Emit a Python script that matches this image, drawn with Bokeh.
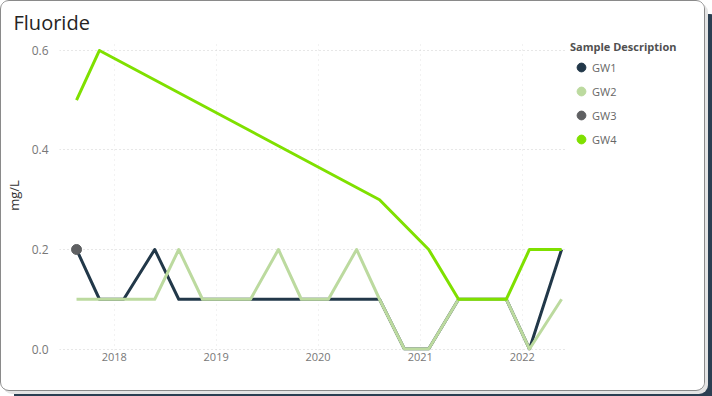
import numpy as np
import pandas as pd
from bokeh.plotting import figure
from bokeh.models import (ColumnDataSource, Legend, LegendItem, FixedTicker,
                          DatetimeTickFormatter, Range1d, CustomJSTickFormatter)
from bokeh.embed import file_html
from bokeh.resources import INLINE

# ---- data ----
dates = ["2017-08-19", "2017-11-09", "2018-02-04", "2018-05-26", "2018-08-20",
         "2018-11-13", "2019-05-04", "2019-08-12", "2019-11-02", "2020-02-07",
         "2020-05-18", "2020-08-08", "2020-11-05", "2021-01-31", "2021-05-18",
         "2021-11-05", "2022-01-27", "2022-05-22"]
gw1 = [0.2, 0.1, 0.1, 0.2, 0.1, 0.1, 0.1, 0.1, 0.1, 0.1, 0.1, 0.1, 0.0, 0.0, 0.1, 0.1, 0.0, 0.2]
gw2 = [0.1, 0.1, 0.1, 0.1, 0.2, 0.1, 0.1, 0.2, 0.1, 0.1, 0.2, 0.1, 0.0, 0.0, 0.1, 0.1, 0.0, 0.1]
gw3_dates = ["2017-08-19"]
gw3 = [0.2]
gw4_dates = ["2017-08-19", "2017-11-09", "2020-08-08", "2021-01-31", "2021-05-18",
             "2021-11-05", "2022-01-27", "2022-05-22"]
gw4 = [0.5, 0.6, 0.3, 0.2, 0.1, 0.1, 0.2, 0.2]

series_names = ["GW1", "GW2", "GW3", "GW4"]
colors = ["#223849", "#BCDA9F", "#5F6062", "#7FE000"]
year_ticks = ["2018-01-01", "2019-01-01", "2020-01-01", "2021-01-01", "2022-01-01"]
y_ticks = [0.0, 0.2, 0.4, 0.6]

FONT = "Open Sans"

x_start = pd.Timestamp("2017-06-19")
x_end = pd.Timestamp("2022-06-05")

p = figure(frame_width=506, frame_height=310, x_axis_type="datetime",
           x_range=Range1d(x_start, x_end), y_range=Range1d(-0.003, 0.62),
           output_backend="svg", toolbar_location=None,
           min_border_left=52, min_border_right=130, min_border_top=32,
           min_border_bottom=38, background_fill_color="white",
           border_fill_color="white", outline_line_color=None)

p.title.text = "Fluoride"
p.title.text_font = FONT
p.title.text_font_size = "20px"
p.title.text_font_style = "normal"
p.title.text_color = "#252423"
p.title.offset = -46

s1 = ColumnDataSource(dict(x=pd.to_datetime(dates), y=gw1))
s2 = ColumnDataSource(dict(x=pd.to_datetime(dates), y=gw2))
s3 = ColumnDataSource(dict(x=pd.to_datetime(gw3_dates), y=gw3))
s4 = ColumnDataSource(dict(x=pd.to_datetime(gw4_dates), y=gw4))

p.line("x", "y", source=s1, line_color=colors[0], line_width=3, line_join="round")
p.line("x", "y", source=s2, line_color=colors[1], line_width=3, line_join="round")
p.scatter("x", "y", source=s3, color=colors[2], size=10)
p.line("x", "y", source=s4, line_color=colors[3], line_width=3, line_join="round")

# legend-only glyph renderers (not drawn in the frame: y is NaN)
leg_items = []
for name, c in zip(series_names, colors):
    r = p.scatter(x=[x_start], y=[np.nan], color=c, size=10)
    leg_items.append(LegendItem(label=name, renderers=[r]))

legend = Legend(items=leg_items, location=(5, 199))
legend.title = "Sample Description"
legend.title_text_font = FONT
legend.title_text_font_size = "11px"
legend.title_text_font_style = "bold"
legend.title_text_color = "#505050"
legend.label_text_font = FONT
legend.label_text_font_size = "11px"
legend.label_text_color = "#666666"
legend.border_line_color = None
legend.background_fill_alpha = 0
legend.glyph_width = 22
legend.glyph_height = 24
legend.label_standoff = 0
legend.spacing = 0
legend.padding = 4
legend.margin = 0
legend.title_standoff = 1
p.add_layout(legend, "right")

# axes
p.xaxis.ticker = FixedTicker(ticks=[pd.Timestamp(t).value // 10**6 for t in year_ticks])
p.xaxis.formatter = DatetimeTickFormatter(years="%Y", months="%Y", days="%Y")
p.yaxis.ticker = FixedTicker(ticks=y_ticks)
p.yaxis.formatter = CustomJSTickFormatter(code="return tick.toFixed(1);")
for ax in (p.xaxis, p.yaxis):
    ax.axis_line_color = None
    ax.major_tick_line_color = None
    ax.minor_tick_line_color = None
    ax.major_label_text_font = FONT
    ax.major_label_text_color = "#777777"
p.xaxis.major_label_text_font_size = "11px"
p.xaxis.major_label_standoff = -4
p.yaxis.major_label_text_font_size = "12px"
p.yaxis.major_label_standoff = 5
p.yaxis.axis_label = "mg/L"
p.yaxis.axis_label_text_font = FONT
p.yaxis.axis_label_text_font_size = "13px"
p.yaxis.axis_label_text_font_style = "normal"
p.yaxis.axis_label_text_color = "#333333"
p.yaxis.axis_label_standoff = 6

p.ygrid.grid_line_color = "#cfcfcf"
p.ygrid.grid_line_dash = "1 3"
p.xgrid.grid_line_color = "#e4e4e4"
p.xgrid.grid_line_dash = "1 4"

p.styles = {"border": "1px solid #8a8a8a", "border-radius": "9px",
            "width": "705px", "height": "391px", "box-sizing": "border-box",
            "overflow": "hidden", "background-color": "white",
            "box-shadow": "3px 3px 0 0 #e4e4e4, 14px 14px 0 0 #2b3f52"}

open("out.html", "w").write(file_html(p, INLINE))
